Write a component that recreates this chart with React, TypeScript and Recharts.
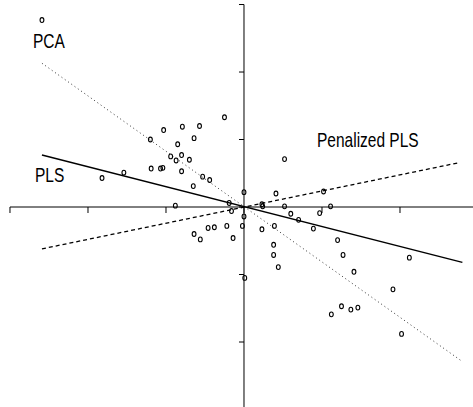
import React from 'react';
import {
  ReferenceDot,
  ReferenceLine,
  Scatter,
  ScatterChart,
  XAxis,
  YAxis,
} from 'recharts';

// scores (first two components)
const scoreX = [
  -2.59, -0.25, -1.03, -0.79, -0.57, -1.2, -0.64, -0.85, -0.94, -0.8,
  -0.87, -0.7, -1.19, -1.07, -1.04, -0.8, -0.53, -0.44, -0.65, -1.54,
  -1.82, -0.88, -0.19, -0.16, 0.0, 0.0, -0.02, -0.46, -0.38, -0.22,
  -0.64, -0.56, -0.14, 0.01, 0.52, 0.41, 1.02, 0.23, 0.24, 0.52,
  1.11, 0.6, 0.7, 0.97, 0.23, 0.39, 0.89, 1.2, 0.38, 0.38,
  0.44, 1.27, 1.41, 2.12, 1.91, 1.25, 1.12, 1.37, 1.46, 2.02,
];
const scoreY = [
  2.77, 1.33, 1.14, 1.19, 1.2, 1.0, 1.02, 0.93, 0.75, 0.77,
  0.69, 0.7, 0.57, 0.57, 0.58, 0.53, 0.45, 0.4, 0.31, 0.51,
  0.43, 0.02, 0.06, -0.06, 0.22, -0.14, -0.28, -0.31, -0.3, -0.28,
  -0.4, -0.48, -0.46, -1.05, 0.71, 0.2, 0.23, 0.04, 0.01, 0.01,
  0.01, -0.1, -0.19, -0.09, -0.33, -0.28, -0.32, -0.49, -0.56, -0.71,
  -0.89, -0.71, -0.96, -0.75, -1.22, -1.47, -1.59, -1.52, -1.49, -1.88,
];

// direction lines (end points)
const plsLine = [{ x: -2.59, y: 0.77 }, { x: 2.8, y: -0.82 }];
const pcaLine = [{ x: -2.59, y: 2.13 }, { x: 2.8, y: -2.29 }];
const penalizedLine = [{ x: -2.59, y: -0.62 }, { x: 2.77, y: 0.66 }];

const xTicks = [-3, -2, -1, 0, 1, 2];
const yTicks = [-2, -1, 0, 1, 2, 3];
const xDomain = [-3.128, 2.936];
const yDomain = [-2.963, 3.067];

const points = scoreX.map((x, i) => ({ x, y: scoreY[i] }));

const Ring = (props: any) => (
  <ellipse cx={props.cx} cy={props.cy} rx={1.9} ry={2.4} fill="none" stroke="#000" strokeWidth={1.1} />
);
const NoDot = () => <g />;

const XTick = (props: any) => (
  <line x1={props.cx} y1={props.cy} x2={props.cx} y2={props.cy + 6} stroke="#000" strokeWidth={1} />
);
const YTick = (props: any) => (
  <line x1={props.cx} y1={props.cy} x2={props.cx - 5} y2={props.cy} stroke="#000" strokeWidth={1} />
);

const Label = ({ x, y, children }: { x: number; y: number; children: string }) => (
  <text
    transform={`translate(${x},${y}) scale(1,1.35)`}
    fontFamily="'Liberation Sans', Arial, sans-serif"
    fontSize={15.5}
    fill="#000"
  >
    {children}
  </text>
);

export default function App() {
  return (
    <div style={{ position: 'relative', width: 473, height: 407, background: '#fff' }}>
      <style>{`body{margin:0}`}</style>
      <ScatterChart width={473} height={407} margin={{ top: 0, right: 0, bottom: 0, left: 0 }}>
        <XAxis type="number" dataKey="x" domain={xDomain} hide allowDataOverflow />
        <YAxis type="number" dataKey="y" domain={yDomain} hide allowDataOverflow />
        <ReferenceLine
          segment={[{ x: -3, y: 0 }, { x: xDomain[1], y: 0 }]}
          stroke="#000"
          strokeWidth={1}
        />
        <ReferenceLine
          segment={[{ x: 0, y: 3 }, { x: 0, y: yDomain[0] }]}
          stroke="#000"
          strokeWidth={1}
        />
        {xTicks.map((t) => (
          <ReferenceDot key={'xt' + t} x={t} y={0} r={0} shape={XTick} />
        ))}
        {yTicks.map((t) => (
          <ReferenceDot key={'yt' + t} x={0} y={t} r={0} shape={YTick} />
        ))}
        <Scatter
          data={pcaLine}
          shape={NoDot}
          line={{ stroke: '#333', strokeWidth: 1, strokeDasharray: '1 3' }}
          isAnimationActive={false}
        />
        <Scatter
          data={penalizedLine}
          shape={NoDot}
          line={{ stroke: '#000', strokeWidth: 1.3, strokeDasharray: '4 3' }}
          isAnimationActive={false}
        />
        <Scatter
          data={plsLine}
          shape={NoDot}
          line={{ stroke: '#000', strokeWidth: 1.4 }}
          isAnimationActive={false}
        />
        <Scatter data={points} shape={Ring} isAnimationActive={false} />
      </ScatterChart>
      <svg
        width={473}
        height={407}
        style={{ position: 'absolute', left: 0, top: 0, pointerEvents: 'none' }}
      >
        <Label x={33} y={48.3}>PCA</Label>
        <Label x={35} y={181.7}>PLS</Label>
        <Label x={317} y={147}>Penalized PLS</Label>
      </svg>
    </div>
  );
}
